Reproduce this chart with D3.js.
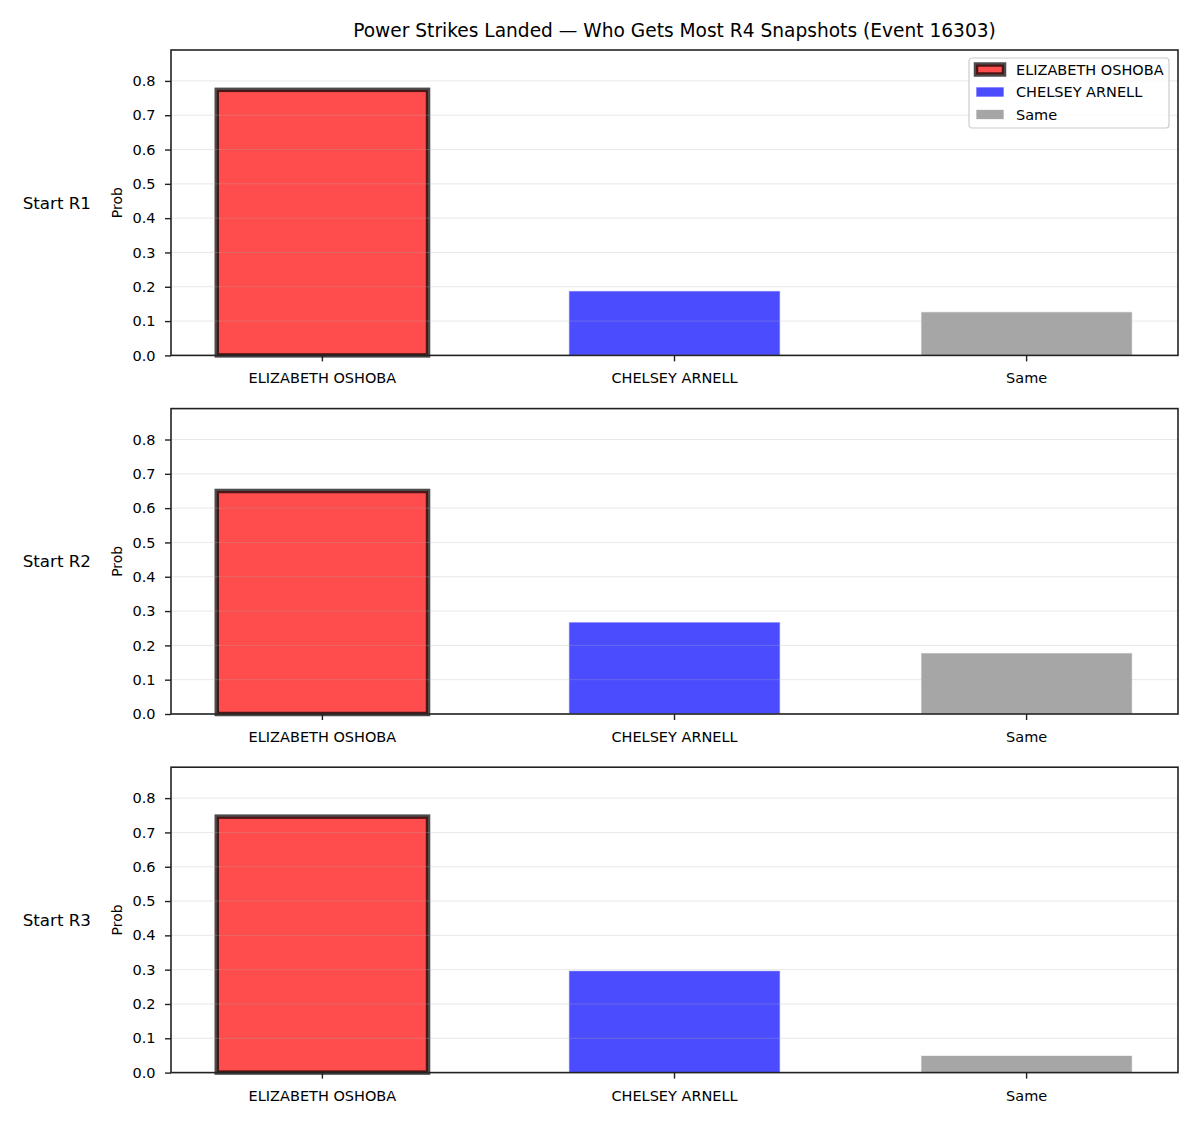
<!DOCTYPE html>
<html>
<head>
<meta charset="utf-8">
<script src="https://cdn.jsdelivr.net/npm/d3@7"></script>
<style>
  body { margin: 0; background: #fff; }
  svg { font-family: "DejaVu Sans", sans-serif; }
</style>
</head>
<body>
<svg width="1200" height="1125"></svg>
<script>
// data
const categories = ["ELIZABETH OSHOBA", "CHELSEY ARNELL", "Same"];
const rowLabels = ["Start R1", "Start R2", "Start R3"];
const oshoba = [0.774, 0.650, 0.746];
const arnell = [0.188, 0.268, 0.297];
const same = [0.127, 0.178, 0.050];
const yTicks = [0, 0.1, 0.2, 0.3, 0.4, 0.5, 0.6, 0.7, 0.8];
const title = "Power Strikes Landed \u2014 Who Gets Most R4 Snapshots (Event 16303)";

const colors = ["#ff0000", "#0000ff", "#808080"];

var svg = d3.select("svg");
var left = 171, right = 1178, panelH = 305.4, panelGap = 358.6, firstTop = 50;
var tickFont = "14.5px";

var ymax = d3.max([].concat(oshoba, arnell, same)) * 1.15;

var x = d3.scaleBand()
    .domain(categories)
    .range([left, right])
    .paddingInner(0.4)
    .paddingOuter(0.13);

svg.append("text")
    .attr("x", (left + right) / 2)
    .attr("y", 30)
    .attr("dy", "0.35em")
    .attr("text-anchor", "middle")
    .style("font-size", "18.6px")
    .text(title);

rowLabels.forEach(function(label, r) {
    var top = firstTop + r * panelGap, bottom = top + panelH;
    var y = d3.scaleLinear().domain([0, ymax]).range([bottom, top]);
    var vals = [oshoba[r], arnell[r], same[r]];
    var g = svg.append("g");

    // bars
    g.selectAll("rect.bar")
        .data(categories)
        .enter().append("rect")
        .attr("class", "bar")
        .attr("x", function(d) { return x(d); })
        .attr("width", x.bandwidth())
        .attr("y", function(d, i) { return y(vals[i]); })
        .attr("height", function(d, i) { return y(0) - y(vals[i]); })
        .attr("fill", function(d, i) { return colors[i]; })
        .attr("fill-opacity", 0.7)
        .attr("stroke", function(d, i) { return i === 0 ? "#000" : "#fff"; })
        .attr("stroke-opacity", 0.7)
        .attr("stroke-width", function(d, i) { return i === 0 ? 4.5 : 1; });

    // grid on top of bars
    g.selectAll("line.grid")
        .data(yTicks)
        .enter().append("line")
        .attr("x1", left).attr("x2", right)
        .attr("y1", function(d) { return y(d); })
        .attr("y2", function(d) { return y(d); })
        .attr("stroke", "#b0b0b0")
        .attr("stroke-opacity", 0.32)
        .attr("stroke-width", 0.9);

    var yAxis = d3.axisLeft(y).tickValues(yTicks).tickFormat(d3.format(".1f"))
        .tickSizeInner(6).tickSizeOuter(0).tickPadding(9.5);
    var ya = g.append("g").attr("transform", "translate(" + left + ",0)").call(yAxis);

    var xAxis = d3.axisBottom(x).tickSizeInner(6).tickSizeOuter(0).tickPadding(11.7);
    var xa = g.append("g").attr("transform", "translate(0," + bottom + ")").call(xAxis);

    [ya, xa].forEach(function(a) {
        a.select(".domain").remove();
        a.selectAll("line").attr("stroke", "#222").attr("stroke-width", 1.4);
        a.selectAll("text").style("font-size", tickFont).attr("fill", "#000")
            .style("font-family", "DejaVu Sans");
    });

    // frame
    g.append("rect")
        .attr("x", left).attr("y", top)
        .attr("width", right - left).attr("height", panelH)
        .attr("fill", "none").attr("stroke", "#222").attr("stroke-width", 1.6);

    g.append("text")
        .attr("transform", "translate(122," + (top + panelH / 2) + ") rotate(-90)")
        .attr("text-anchor", "middle")
        .style("font-size", "14px")
        .text("Prob");

    g.append("text")
        .attr("x", 91)
        .attr("y", top + panelH / 2)
        .attr("dy", "0.35em")
        .attr("text-anchor", "end")
        .style("font-size", "16.7px")
        .text(label);
});

// legend
var leg = svg.append("g").attr("transform", "translate(969,58)");
leg.append("rect")
    .attr("width", 200).attr("height", 70).attr("rx", 3)
    .attr("fill", "#fff").attr("fill-opacity", 0.8)
    .attr("stroke", "#cccccc").attr("stroke-width", 1.2);
categories.forEach(function(c, i) {
    var row = leg.append("g").attr("transform", "translate(0," + (11.5 + i * 22.5) + ")");
    row.append("rect")
        .attr("x", 7).attr("y", -5).attr("width", 28).attr("height", 10)
        .attr("fill", colors[i]).attr("fill-opacity", 0.7)
        .attr("stroke", i === 0 ? "#000" : "#fff")
        .attr("stroke-opacity", 0.7)
        .attr("stroke-width", i === 0 ? 4.5 : 1);
    row.append("text")
        .attr("x", 47).attr("dy", "0.35em")
        .style("font-size", tickFont)
        .text(c);
});
</script>
</body>
</html>
